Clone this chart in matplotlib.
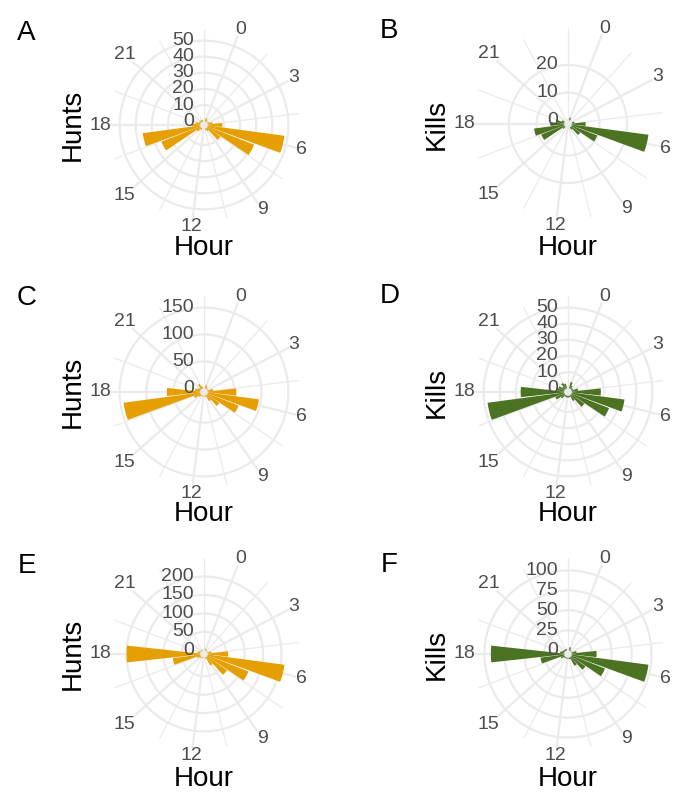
import numpy as np
import matplotlib
matplotlib.use("Agg")
import matplotlib.pyplot as plt
from matplotlib.transforms import offset_copy

plt.rcParams['font.family'] = ['Liberation Sans', 'DejaVu Sans']

# hour of day, 0..23
hours = list(range(24))
hour_breaks = [0, 3, 6, 9, 12, 15, 18, 21]

# counts per hour
hunts_a = [2, 1, 0, 1, 3, 9, 48, 31, 10, 2, 1, 0, 0, 0, 1, 3, 26, 36, 5, 3, 1, 1, 1, 1]
kills_b = [1, 0, 0, 0, 1, 5, 28, 10, 4, 1, 0, 0, 0, 0, 0, 1, 9, 11, 5, 3, 1, 0, 0, 0]
hunts_c = [6, 3, 1, 1, 10, 53, 96, 62, 28, 12, 2, 1, 1, 1, 2, 5, 13, 144, 62, 10, 6, 3, 10, 4]
kills_d = [4, 2, 1, 1, 4, 18, 33, 25, 10, 4, 1, 1, 1, 1, 1, 3, 6, 48, 27, 5, 4, 2, 4, 3]
hunts_e = [5, 2, 1, 1, 10, 55, 210, 119, 66, 25, 3, 1, 1, 1, 2, 4, 10, 75, 200, 8, 4, 2, 2, 2]
kills_f = [4, 1, 0, 1, 6, 31, 97, 45, 22, 12, 2, 1, 1, 1, 1, 2, 5, 30, 92, 5, 3, 2, 2, 2]

# radial tick labels of each panel
rbreaks_a = [0, 10, 20, 30, 40, 50]
rbreaks_b = [0, 10, 20]
rbreaks_c = [0, 50, 100, 150]
rbreaks_d = [0, 10, 20, 30, 40, 50]
rbreaks_e = [0, 50, 100, 150, 200]
rbreaks_f = [0, 25, 50, 75, 100]

ORANGE = '#E69F00'
GREEN = '#4B7322'
GRID = '#EBEBEB'
TICK = '#4D4D4D'

W, H = 683, 792
fig = plt.figure(figsize=(W / 100, H / 100), dpi=100)

R_PX = 85              # radius of the data area in pixels
AX_R = R_PX * 1.125    # spokes run a bit past the data area
T_LO, T_HI = -1.5, 24.5


def to_theta(h):
    return (np.asarray(h, dtype=float) - T_LO) / (T_HI - T_LO) * 2 * np.pi


def rose(cx, cy, values, rbreaks, color, ylabel, letter, lx, ly, hour_y):
    ax = fig.add_axes([(cx - AX_R) / W, 1 - (cy + AX_R) / H, 2 * AX_R / W, 2 * AX_R / H],
                      projection='polar')
    ax.set_theta_zero_location('N')
    ax.set_theta_direction(-1)
    top = max(values)
    lo, hi = -0.05 * top, 1.05 * top
    outer = lo + (hi - lo) * 1.125
    ax.set_ylim(lo, outer)
    ax.grid(False)
    ax.set_xticks([])
    ax.set_yticks([])
    ax.spines['polar'].set_visible(False)
    ax.patch.set_alpha(0)

    # spokes
    for h in np.arange(-1.5, 23, 3):
        ax.plot([to_theta(h)] * 2, [lo, outer], color=GRID, lw=0.9, zorder=1)
    for h in hour_breaks:
        ax.plot([to_theta(h)] * 2, [lo, outer], color=GRID, lw=1.6, zorder=1)
    # rings
    t = np.linspace(0, 2 * np.pi, 361)
    for b in rbreaks:
        ax.plot(t, np.full_like(t, b), color=GRID, lw=1.6, zorder=1)

    ax.bar(to_theta(hours), values, width=to_theta(0.9) - to_theta(0), bottom=0,
           color=color, linewidth=0, zorder=2)

    # hour labels round the outside
    for h in hour_breaks:
        th = float(to_theta(h))
        lab = str(h)
        r_px = 94 + abs(np.sin(th)) * 4.8 * len(lab) + abs(np.cos(th)) * 7
        r_val = lo + (outer - lo) * r_px / AX_R
        ax.text(th, r_val, lab, ha='center', va='center', fontsize=14, color=TICK)

    # radial labels, just left of the centre line
    trans = offset_copy(ax.transData, fig=fig, x=-10, y=0, units='dots')
    for b in rbreaks:
        ax.text(0, b, str(b), transform=trans, ha='right', va='center',
                fontsize=14, color=TICK, zorder=5)

    fig.text((cx - 131) / W, 1 - cy / H, ylabel, rotation=90, ha='center', va='center',
             fontsize=20, color='black')
    fig.text(cx / W, 1 - hour_y / H, 'Hour', ha='center', va='baseline',
             fontsize=20, color='black')
    fig.text(lx / W, 1 - ly / H, letter, ha='left', va='baseline', fontsize=20, color='black')
    return ax


rose(204, 125, hunts_a, rbreaks_a, ORANGE, 'Hunts', 'A', 17, 40, 255)
rose(568, 124, kills_b, rbreaks_b, GREEN, 'Kills', 'B', 380, 38, 255)
rose(204, 392, hunts_c, rbreaks_c, ORANGE, 'Hunts', 'C', 17, 305, 521)
rose(568, 392, kills_d, rbreaks_d, GREEN, 'Kills', 'D', 380, 303, 521)
rose(204, 654, hunts_e, rbreaks_e, ORANGE, 'Hunts', 'E', 18, 573, 786)
rose(568, 654, kills_f, rbreaks_f, GREEN, 'Kills', 'F', 381, 572, 786)

fig.savefig('out.png', dpi=100)
